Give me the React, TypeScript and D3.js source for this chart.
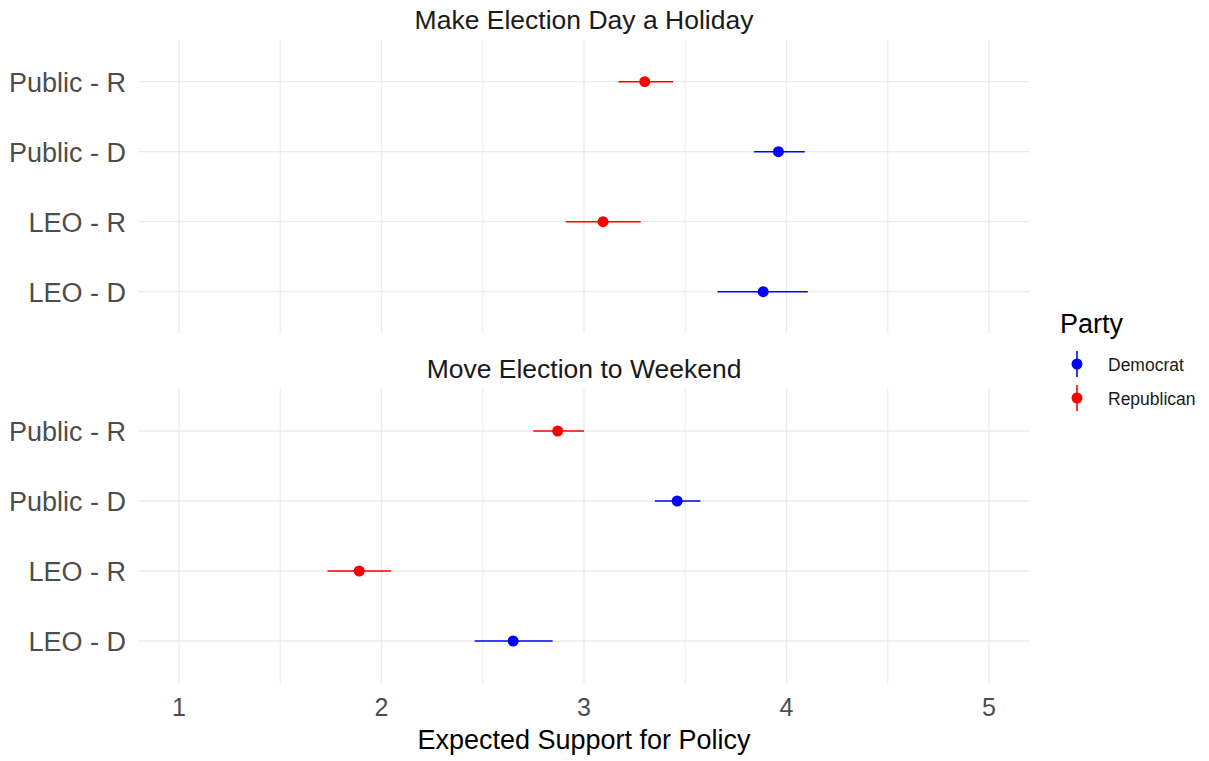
import React from "react";
import * as d3 from "d3";

// Panels (policies) and rows within each panel
const policies = ["Make Election Day a Holiday", "Move Election to Weekend"];
const groups = ["Public - R", "Public - D", "LEO - R", "LEO - D"];
const groupParty = ["Republican", "Democrat", "Republican", "Democrat"];

// Estimates and interval bounds, per policy, in the order of `groups`
const holidayEst = [3.3, 3.96, 3.094, 3.885];
const holidayLow = [3.17, 3.84, 2.91, 3.66];
const holidayHigh = [3.44, 4.09, 3.28, 4.105];

const weekendEst = [2.87, 3.46, 1.89, 2.65];
const weekendLow = [2.75, 3.35, 1.733, 2.46];
const weekendHigh = [3.0, 3.575, 2.048, 2.845];

const xTicks = [1, 2, 3, 4, 5];
const xMinor = [1.5, 2.5, 3.5, 4.5];
const parties = ["Democrat", "Republican"];
const partyColors = ["#0000ff", "#ff0000"];

const W = 1209;
const H = 761;
const FONT = "'Liberation Sans', Arial, sans-serif";

export default function App() {
  const x = d3.scaleLinear().domain([0.8, 5.2]).range([138.5, 1029.5]);
  const color = d3.scaleOrdinal<string, string>().domain(parties).range(partyColors);

  const panels = [
    { title: policies[0], top: 39.7, bottom: 333.7, est: holidayEst, low: holidayLow, high: holidayHigh, titleY: 29 },
    { title: policies[1], top: 389, bottom: 683, est: weekendEst, low: weekendLow, high: weekendHigh, titleY: 378 },
  ];

  return (
    <svg width={W} height={H} style={{ position: "absolute", left: 0, top: 0, background: "#fff" }} fontFamily={FONT}>
      {panels.map((p, pi) => {
        const y = d3.scalePoint<string>().domain(groups).range([p.top, p.bottom]).padding(0.6);
        return (
          <g key={pi}>
            <text x={x(3)} y={p.titleY} textAnchor="middle" fontSize={26.5} fill="#1a1a1a">{p.title}</text>
            {xMinor.map((t) => (
              <line key={"m" + t} x1={x(t)} x2={x(t)} y1={p.top} y2={p.bottom} stroke="#ebebeb" strokeWidth={1} />
            ))}
            {xTicks.map((t) => (
              <line key={"M" + t} x1={x(t)} x2={x(t)} y1={p.top} y2={p.bottom} stroke="#ebebeb" strokeWidth={1.3} />
            ))}
            {groups.map((g) => (
              <line key={"h" + g} x1={138.5} x2={1029.5} y1={y(g)!} y2={y(g)!} stroke="#ebebeb" strokeWidth={1.3} />
            ))}
            {groups.map((g) => (
              <text key={"l" + g} x={126} y={y(g)! + 10} textAnchor="end" fontSize={27} fill="#4d4d4d">{g}</text>
            ))}
            {groups.map((g, i) => {
              const c = color(groupParty[i]);
              return (
                <g key={"d" + g}>
                  <line x1={x(p.low[i])} x2={x(p.high[i])} y1={y(g)!} y2={y(g)!} stroke={c} strokeWidth={1.6} />
                  <circle cx={x(p.est[i])} cy={y(g)!} r={5.5} fill={c} />
                </g>
              );
            })}
          </g>
        );
      })}
      {xTicks.map((t) => (
        <text key={"xt" + t} x={x(t)} y={716} textAnchor="middle" fontSize={25} fill="#4d4d4d">{t}</text>
      ))}
      <text x={x(3)} y={749} textAnchor="middle" fontSize={27} fill="#000">Expected Support for Policy</text>

      <text x={1060} y={333} fontSize={27} fill="#000">Party</text>
      {parties.map((pt, i) => {
        const cy = 364 + i * 34;
        return (
          <g key={pt}>
            <line x1={1077} x2={1077} y1={cy - 13} y2={cy + 13} stroke={color(pt)} strokeWidth={1.6} />
            <circle cx={1077} cy={cy} r={5.5} fill={color(pt)} />
            <text x={1108} y={cy + 6.5} fontSize={17.5} fill="#1a1a1a">{pt}</text>
          </g>
        );
      })}
    </svg>
  );
}
